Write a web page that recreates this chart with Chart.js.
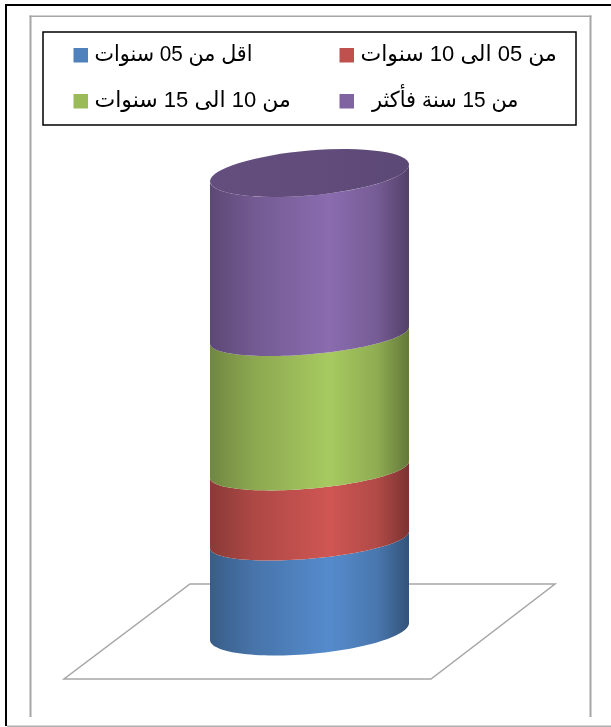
<!DOCTYPE html>
<html>
<head>
<meta charset="utf-8">
<style>
    html, body { margin: 0; padding: 0; background: #fff; overflow: hidden; }
    canvas { display: block; }
</style>
<script src="https://cdn.jsdelivr.net/npm/chart.js@4"></script>
</head>
<body>
<canvas id="cylinderChart" width="611" height="727"></canvas>
<script>
// Chart data (share of the column, in %)
const categories = ['الأقدمية'];
const seriesNames = ['اقل من 05 سنوات', 'من 05 الى 10 سنوات', 'من 10 الى 15 سنوات', 'من 15 سنة فأكثر  '];
const under5 = [20];
const from5to10 = [15.3];
const from10to15 = [29.3];
const over15 = [35.4];
const seriesColors = ['#4F81BD', '#C0504D', '#9BBB59', '#8064A2'];

// Darken or lighten a hex colour
function shade(hex, f) {
    const n = parseInt(hex.slice(1), 16);
    const c = [n >> 16, (n >> 8) & 255, n & 255].map(v => Math.min(255, Math.round(v * f)));
    return `rgb(${c[0]}, ${c[1]}, ${c[2]})`;
}

// Page frames and the floor of the 3D plot, behind the column
const framePlugin = {
    id: 'frames',
    beforeDraw(chart) {
        const ctx = chart.ctx;
        ctx.save();
        ctx.fillStyle = '#000';
        ctx.fillRect(5, 4, 606, 2);
        ctx.fillRect(5, 4, 2, 722);
        ctx.fillStyle = '#b0b0b0';
        ctx.fillRect(7, 725.5, 604, 1.5);
        ctx.fillStyle = '#a6a6a6';
        ctx.fillRect(29.5, 15.5, 2, 701.5);
        ctx.fillRect(589.5, 15.5, 2, 701.5);
        ctx.fillRect(29.5, 15.5, 562, 1.5);

        ctx.strokeStyle = '#a6a6a6';
        ctx.lineWidth = 1.5;
        ctx.beginPath();
        ctx.moveTo(190, 584);
        ctx.lineTo(555, 584);
        ctx.lineTo(431, 679);
        ctx.lineTo(64, 679);
        ctx.closePath();
        ctx.stroke();
        ctx.restore();
    }
};

// Draws the stacked bars as one cylinder, using the bar elements from the scales
const cylinderPlugin = {
    id: 'cylinder',
    beforeDatasetsDraw(chart) {
        const ctx = chart.ctx;
        const depth = 22.5;
        const skew = -0.084;
        chart.data.datasets.forEach((ds, i) => {
            const bar = chart.getDatasetMeta(i).data[0];
            const rx = bar.width / 2;
            const left = bar.x - rx;
            const lowerDepth = i === 0 ? depth : 19;
            const upperDepth = i === chart.data.datasets.length - 1 ? depth : 19;

            const grad = ctx.createLinearGradient(left, 0, left + bar.width, 0);
            grad.addColorStop(0, shade(ds.backgroundColor, 0.72));
            grad.addColorStop(0.22, shade(ds.backgroundColor, 0.9));
            grad.addColorStop(0.6, shade(ds.backgroundColor, 1.08));
            grad.addColorStop(0.84, shade(ds.backgroundColor, 0.92));
            grad.addColorStop(1, shade(ds.backgroundColor, 0.64));

            ctx.save();
            ctx.fillStyle = grad;
            ctx.beginPath();
            // lower rim from left to right, upper rim back from right to left
            ctx.moveTo(left, bar.base - skew * rx);
            for (let a = 180; a >= 0; a -= 3) {
                const x = Math.cos(a * Math.PI / 180) * rx;
                ctx.lineTo(bar.x + x, bar.base + skew * x + Math.sin(a * Math.PI / 180) * lowerDepth);
            }
            for (let a = 0; a <= 180; a += 3) {
                const x = Math.cos(a * Math.PI / 180) * rx;
                ctx.lineTo(bar.x + x, bar.y + skew * x + Math.sin(a * Math.PI / 180) * upperDepth);
            }
            ctx.closePath();
            ctx.fill();
            ctx.restore();

            // top cap
            if (i === chart.data.datasets.length - 1) {
                const capGrad = ctx.createLinearGradient(left, 0, left + bar.width, 0);
                capGrad.addColorStop(0, shade(ds.backgroundColor, 0.78));
                capGrad.addColorStop(0.5, shade(ds.backgroundColor, 0.76));
                capGrad.addColorStop(1, shade(ds.backgroundColor, 0.72));
                ctx.save();
                ctx.transform(1, skew, 0, 1, bar.x, bar.y);
                ctx.fillStyle = capGrad;
                ctx.translate(-bar.x, -bar.y);
                ctx.beginPath();
                ctx.ellipse(bar.x, bar.y, rx, depth, 0, 0, Math.PI * 2);
                ctx.fill();
                ctx.restore();
            }
        });
        return false; // the default flat bars are not drawn
    },
    afterDraw(chart) {
        // Legend box, two rows of two entries
        const ctx = chart.ctx;
        ctx.save();
        ctx.strokeStyle = '#000';
        ctx.lineWidth = 1.5;
        ctx.strokeRect(43, 32, 533, 93);
        const cols = [73.5, 339.5];
        const rows = [48, 94];
        const textWidths = [158, 197, 198, 158];
        ctx.font = '22px "Liberation Sans", Arial, "DejaVu Sans", sans-serif';
        ctx.direction = 'rtl';
        ctx.textAlign = 'left';
        ctx.textBaseline = 'middle';
        chart.data.datasets.forEach((ds, i) => {
            const x = cols[i % 2];
            const y = rows[Math.floor(i / 2)];
            ctx.fillStyle = ds.backgroundColor;
            ctx.fillRect(x, y, 14.5, 14.5);
            ctx.fillStyle = '#000';
            ctx.fillText(ds.label, x + 21, y + 6.5, textWidths[i]);
        });
        ctx.restore();
    }
};

function initializeChart() {
    const canvas = document.getElementById('cylinderChart');
    const data = [under5, from5to10, from10to15, over15];
    new Chart(canvas, {
        type: 'bar',
        data: {
            labels: categories,
            datasets: seriesNames.map((name, i) => ({
                label: name,
                data: data[i],
                backgroundColor: seriesColors[i],
                barPercentage: 1,
                categoryPercentage: 1
            }))
        },
        options: {
            responsive: false,
            animation: false,
            layout: { padding: { left: 210, right: 202, top: 173, bottom: 95.5 } },
            scales: {
                x: { stacked: true, display: false },
                y: { stacked: true, display: false, min: 0, max: 100 }
            },
            plugins: {
                legend: { display: false },
                tooltip: { enabled: false }
            }
        },
        plugins: [framePlugin, cylinderPlugin]
    });
}

initializeChart();
</script>
</body>
</html>
